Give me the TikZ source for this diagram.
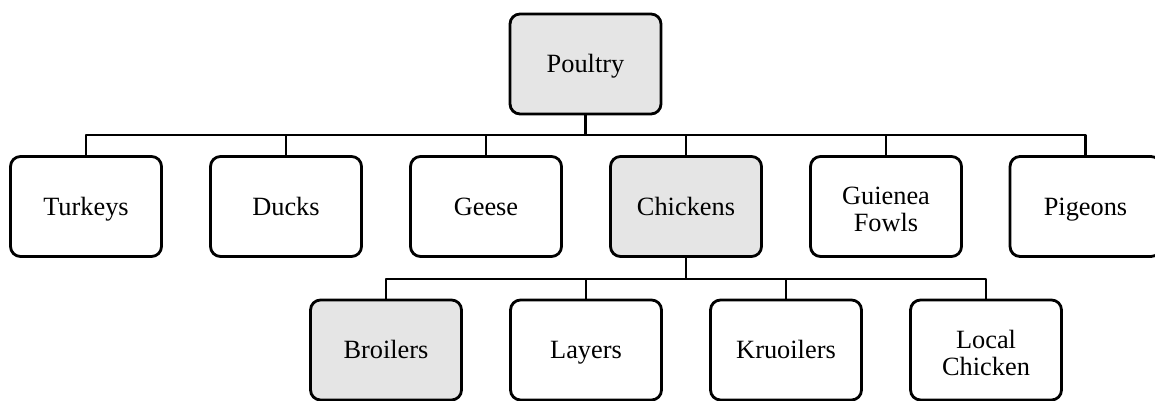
\documentclass[tikz,border=0pt]{standalone}
\usepackage{fontspec}
\setmainfont{Liberation Serif}
\begin{document}
\begin{tikzpicture}[x=0.02cm,y=-0.02cm,line width=1.6pt,line join=round,
		box/.style={draw,rounded corners=0.2cm,minimum width=3.02cm,minimum height=2.0cm,align=center,font=\fontsize{15}{15.6}\selectfont},
		one/.style={text height=13pt,text depth=3pt},
		grey/.style={box,fill=Tint}]
			\colorlet{Tint}{black!10}
			\def\Lift{\rule{0pt}{13.5pt}}
			\useasboundingbox (0,0) rectangle (1155,401);
			\def\RowB{206.5}
			\def\RowC{350}
			\node[grey,one] (poultry) at (585.5,64) {Poultry};
			\node[box,one] (turkeys) at (86,\RowB) {Turkeys};
			\node[box,one] (ducks) at (286,\RowB) {Ducks};
			\node[box,one] (geese) at (486,\RowB) {Geese};
			\node[grey,one] (chickens) at (686,\RowB) {Chickens};
			\node[box] (fowls) at (886,\RowB) {\Lift Guienea\\Fowls};
			\node[box,one] (pigeons) at (1085.5,\RowB) {Pigeons};
			\node[grey,one] (broilers) at (386,\RowC) {Broilers};
			\node[box,one] (layers) at (586,\RowC) {Layers};
			\node[box,one] (kruoilers) at (786,\RowC) {Kruoilers};
			\node[box] (local) at (986,\RowC) {\Lift Local\\Chicken};
			\coordinate (busA) at (585.5,135);
			\coordinate (busB) at (686,279);
			\draw (poultry) -- (busA);
			\foreach \k in {turkeys,ducks,geese,chickens,fowls,pigeons}
				\draw (busA) -| (\k);
			\draw (chickens) -- (busB);
			\foreach \k in {broilers,layers,kruoilers,local}
				\draw (busB) -| (\k);
		\end{tikzpicture}
\end{document}
